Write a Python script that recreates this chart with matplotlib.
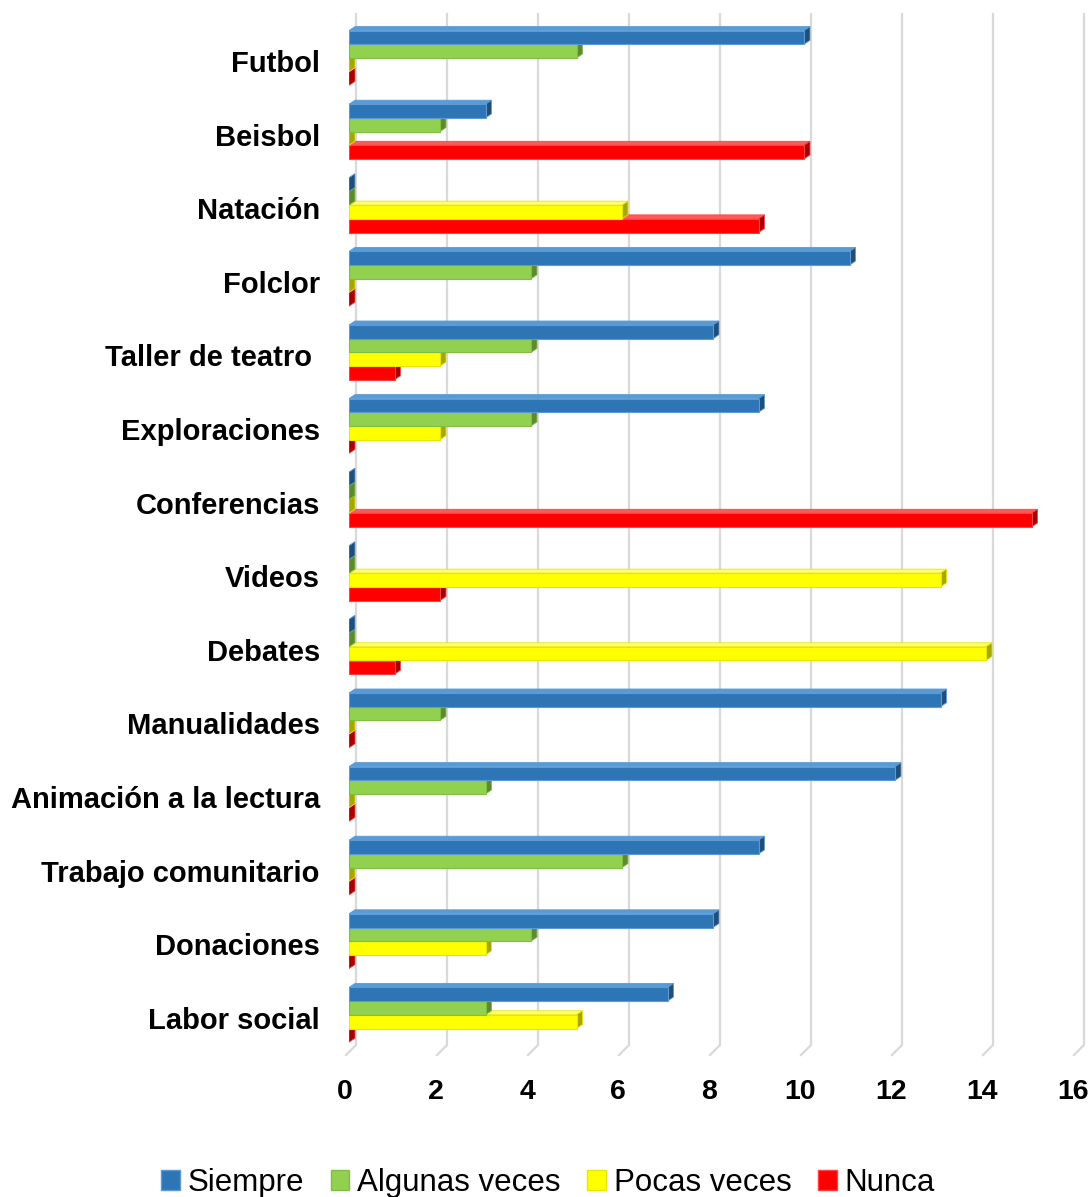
import matplotlib
matplotlib.use("Agg")
import matplotlib.pyplot as plt
import matplotlib.transforms as mtransforms
from matplotlib.patches import Rectangle, Polygon, Patch

categories = ["Futbol", "Beisbol", "Natación", "Folclor", "Taller de teatro ",
              "Exploraciones", "Conferencias", "Videos", "Debates", "Manualidades",
              "Animación a la lectura", "Trabajo comunitario", "Donaciones", "Labor social"]
series_names = ["Siempre", "Algunas veces", "Pocas veces", "Nunca"]
siempre = [10, 3, 0, 11, 8, 9, 0, 0, 0, 13, 12, 9, 8, 7]
algunas = [5, 2, 0, 4, 4, 4, 0, 0, 0, 2, 3, 6, 4, 3]
pocas = [0, 0, 6, 0, 2, 2, 0, 13, 14, 0, 0, 0, 3, 5]
nunca = [0, 10, 9, 0, 1, 0, 15, 2, 1, 0, 0, 0, 0, 0]
xticks = [0, 2, 4, 6, 8, 10, 12, 14, 16]

series = [siempre, algunas, pocas, nunca]
front = ["#2E75B6", "#92D050", "#FFFF00", "#FF0000"]
topc = ["#5B9BD5", "#A9DC75", "#FFFF70", "#FF5A5A"]
side = ["#1F4E79", "#5E8A2E", "#A6A600", "#A60000"]
edge = ["#5B9BD5", "#7FBF3F", "#E6E600", "#FF4040"]

plt.rcParams['font.family'] = ['Liberation Sans', 'DejaVu Sans']

W, H = 1092, 1197
fig = plt.figure(figsize=(W / 100, H / 100), dpi=100)
ax_left, ax_right, ax_top, ax_bot = 349, 1077, 14, 1045
ax = fig.add_axes([ax_left / W, 1 - ax_bot / H, (ax_right - ax_left) / W, (ax_bot - ax_top) / H])
label0 = 61
ppu_y = 73.6
y_top = -(label0 - ax_top) / ppu_y
y_bot = (ax_bot - label0) / ppu_y
ax.set_xlim(0, 16)
ax.set_ylim(y_bot, y_top)
ppu_x = (ax_right - ax_left) / 16.0

for s in ax.spines.values():
    s.set_visible(False)

# gridlines on back wall + floor slant
g_off = 7 / ppu_x
for v in xticks:
    ax.plot([v + g_off, v + g_off, v + g_off - 10 / ppu_x],
            [y_top, y_bot, y_bot + 10 / ppu_y],
            color="#D9D9D9", lw=1.6, clip_on=False, zorder=0, solid_joinstyle="miter")

h = 13.7 / ppu_y
shift = -3 / ppu_y
dx = 6 / ppu_x
dy = 4 / ppu_y

for k in reversed(range(4)):
    vals = series[k]
    for i, v in enumerate(vals):
        yc = i + (k - 1.5) * h + shift
        y0 = yc - h / 2
        y1 = yc + h / 2
        z = 2 + (4 - k) * 0.1
        ax.add_patch(Polygon([(0, y0), (v, y0), (v + dx, y0 - dy), (dx, y0 - dy)],
                             closed=True, facecolor=topc[k], edgecolor=edge[k], lw=0.6, zorder=z))
        ax.add_patch(Polygon([(v, y0), (v + dx, y0 - dy), (v + dx, y1 - dy), (v, y1)],
                             closed=True, facecolor=side[k], edgecolor=edge[k], lw=0.6, zorder=z))
        if v > 0:
            ax.add_patch(Rectangle((0, y0), v, h, facecolor=front[k], edgecolor=edge[k],
                                   lw=0.8, zorder=z))

ax.set_yticks(range(len(categories)))
ax.set_yticklabels(categories, fontsize=21, fontweight="bold")
ax.set_xticks(xticks)
ax.set_xticklabels([str(t) for t in xticks], fontsize=20.5, fontweight="bold")
ax.tick_params(axis="y", length=0, pad=21)
ax.tick_params(axis="x", length=0, pad=24.5)
shift_lbl = mtransforms.ScaledTranslation(-4 / 100, 0, fig.dpi_scale_trans)
for lab in ax.get_xticklabels():
    lab.set_transform(lab.get_transform() + shift_lbl)

handles = [Patch(facecolor=front[k], edgecolor=edge[k], label=series_names[k]) for k in range(4)]
fig.legend(handles=handles, loc="center", bbox_to_anchor=(548 / W, 1 - 1183 / H), ncol=4,
           frameon=False, fontsize=22.5, handlelength=0.6, handleheight=0.65,
           handletextpad=0.25, columnspacing=0.85, borderaxespad=0)

fig.savefig("out.png", dpi=100)
